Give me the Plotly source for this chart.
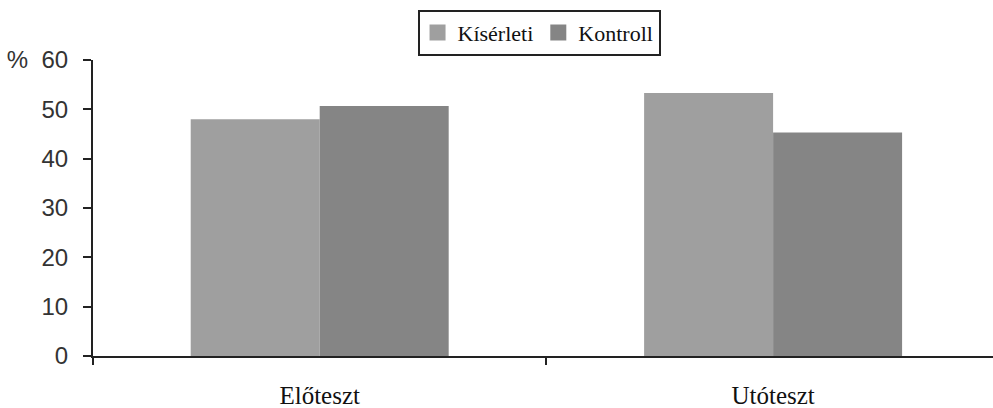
import plotly.graph_objects as go

# Survey results: share of correct answers (%) before and after the intervention
categories = ["Előteszt", "Utóteszt"]
kiserleti = [48.0, 53.3]
kontroll = [50.7, 45.3]
series_names = ["Kísérleti", "Kontroll"]
y_tickvals = [0, 10, 20, 30, 40, 50, 60]
y_ticktext = ["0", "10", "20", "30", "40", "50", "%  60"]

colors = ["#9f9f9f", "#858585"]
serif = "Liberation Serif, DejaVu Serif, serif"
sans = "Liberation Sans, Arial, sans-serif"

fig = go.Figure()
for name, vals, col in zip(series_names, [kiserleti, kontroll], colors):
    fig.add_trace(go.Bar(
        x=categories, y=vals, name=name, legendgroup=name, showlegend=False,
        marker=dict(color=col, line=dict(width=0)),
    ))
    # legend entry with a larger square swatch
    fig.add_trace(go.Scatter(
        x=[None], y=[None], name=name, legendgroup=name, mode="markers",
        marker=dict(symbol="square", size=16, color=col),
        hoverinfo="skip",
    ))

fig.update_layout(
    width=993, height=408,
    margin=dict(l=93, r=0, t=60, b=52),
    paper_bgcolor="white", plot_bgcolor="white",
    barmode="group", bargap=0.431, bargroupgap=0,
    showlegend=True,
    legend=dict(
        orientation="h", x=0.4956, xanchor="center", y=1.17, yanchor="top",
        font=dict(family=serif, size=22, color="#111"),
        bordercolor="#222", borderwidth=2, bgcolor="white",
        itemsizing="trace", tracegroupgap=0, itemwidth=30,
    ),
    xaxis=dict(
        range=[-0.5, 1.485], automargin=False,
        showline=True, linecolor="#222", linewidth=2,
        ticks="outside", tickson="boundaries", ticklen=7, tickwidth=2, tickcolor="#222",
        tickfont=dict(family=serif, size=25, color="#111"),
        ticklabelstandoff=16,
        showgrid=False, zeroline=False,
    ),
    yaxis=dict(
        range=[0, 60], automargin=False,
        tickvals=y_tickvals, ticktext=y_ticktext,
        showline=True, linecolor="#222", linewidth=2,
        ticks="outside", ticklen=8, tickwidth=2, tickcolor="#222",
        tickfont=dict(family=sans, size=24, color="#333"),
        ticklabelstandoff=10,
        showgrid=False, zeroline=False,
    ),
)

fig.write_html("out.html")
